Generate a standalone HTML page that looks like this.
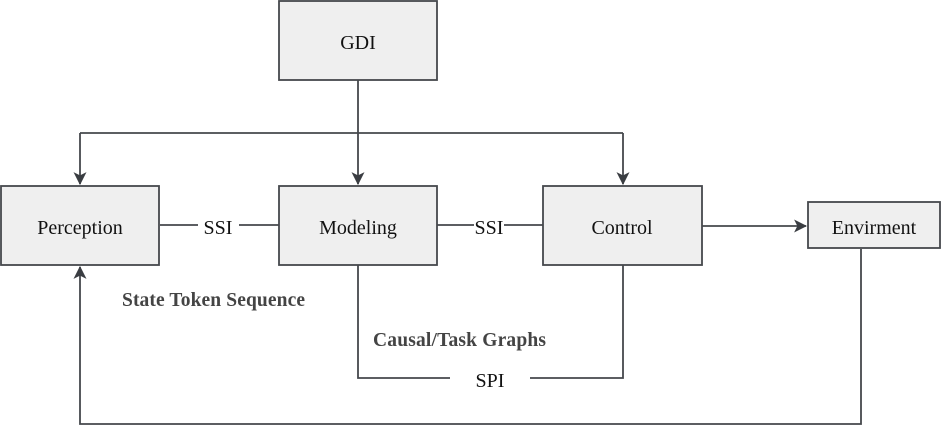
<!DOCTYPE html>
<html><head><style>body{margin:0;background:#fff}</style></head><body>
<svg width="941" height="425" xmlns="http://www.w3.org/2000/svg" font-family="Liberation Serif, serif">
<defs><marker id="a" viewBox="0 0 12 12" refX="11" refY="6" markerWidth="13" markerHeight="13" markerUnits="userSpaceOnUse" orient="auto"><path d="M0,0 L12,6 L0,12 L3,6 Z" fill="#3a3d42"/></marker></defs>
<g fill="none" stroke="#45484c" stroke-width="1.8">
<path d="M358,80 V184" marker-end="url(#a)"/>
<path d="M80,133 H623"/>
<path d="M80,133 V184" marker-end="url(#a)"/>
<path d="M623,133 V184" marker-end="url(#a)"/>
<path d="M160,225 H198 M239,225 H279"/>
<path d="M437,225 H474 M504,225 H543"/>
<path d="M702,226 H806" marker-end="url(#a)"/>
<path d="M861,249 V424 H80 V267" marker-end="url(#a)"/>
<path d="M358,265 V378 H450 M530,378 H623 V265"/>
</g>
<g fill="#efefef" stroke="#45484c" stroke-width="1.8">
<rect x="279" y="1" width="158" height="79"/>
<rect x="1" y="186" width="158" height="79"/>
<rect x="279" y="186" width="158" height="79"/>
<rect x="543" y="186" width="159" height="79"/>
<rect x="808" y="202" width="132" height="46"/>
</g>
<g fill="#111" font-size="20" text-anchor="middle">
<text x="358" y="49">GDI</text>
<text x="80" y="234">Perception</text>
<text x="358" y="234">Modeling</text>
<text x="622" y="234">Control</text>
<text x="874" y="234">Envirment</text>
<text x="218" y="234">SSI</text>
<text x="489" y="234">SSI</text>
<text x="490" y="387">SPI</text>
</g>
<g fill="#444" font-size="19.5" font-weight="bold">
<text x="122" y="306" textLength="183">State Token Sequence</text>
<text x="373" y="346" textLength="173">Causal/Task Graphs</text>
</g>
</svg>
</body></html>
